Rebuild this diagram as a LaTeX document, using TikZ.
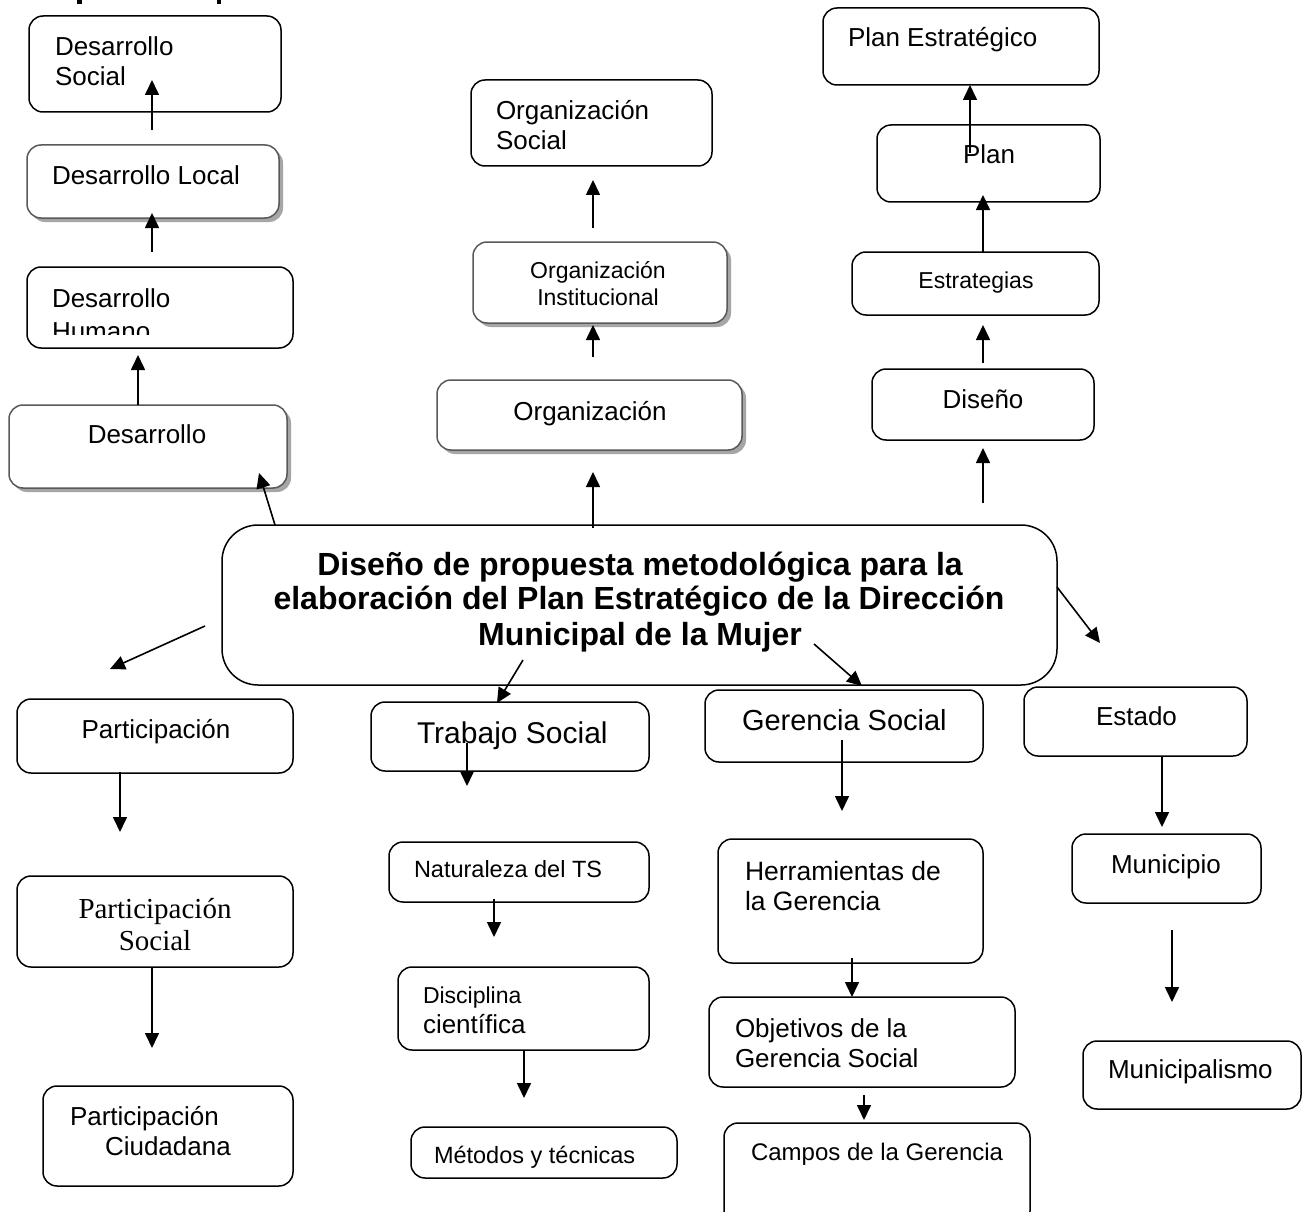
\documentclass[tikz,border=0pt]{standalone}
\usepackage{fontspec}
\setmainfont{Liberation Sans}
\newfontfamily\tmsfont{Liberation Serif}
\usetikzlibrary{arrows.meta,fit,shadows}
\begin{document}
\begin{tikzpicture}[x=1pt,y=-1pt,
 box/.style={draw=black, line width=1.5pt, rounded corners=14pt, inner sep=0pt, outer sep=0pt, fill=white},
 sbox/.style={box, draw=black!65, drop shadow={shadow xshift=4pt, shadow yshift=-4pt, fill=black!35, opacity=1}},
 arr/.style={line width=1.6pt, -{Triangle[length=15pt,width=14pt]}},
 t/.style={inner sep=0pt, outer sep=0pt, font=\fontsize{#1}{#1}\selectfont},
 t/.default=26,
]
\clip (0,0) rectangle (1310,1212);
\fill[white] (0,0) rectangle (1310,1212);
% cut-off title fragments
\fill (77,0) rectangle (82,4);
\fill (217,0) rectangle (221,4);

% ---------- left top column ----------
\node[box, fit={(29,16) (281,112)}] (dsoc) {};
\node[t, anchor=base west] (dsocA) at (55,56) {Desarrollo};
\node[t, anchor=base west] (dsocB) at (55,86) {Social};

\node[sbox, fit={(27,145) (279,218)}] (dloc) {};
\node[t, anchor=base west] (dlocA) at (52,185) {Desarrollo Local};

\node[box, fit={(27,267) (293,348)}] (dhum) {};
\node[t, anchor=base west] (dhumA) at (52,307) {Desarrollo};
\begin{scope}
\clip (27,267) rectangle (293,334);
\node[t, anchor=base west] (dhumB) at (52,340) {Humano};
\end{scope}

\node[sbox, fit={(9,405) (287,488)}] (des) {};
\node[t, anchor=base] (desA) at (147,443) {Desarrollo};

% ---------- middle top column ----------
\node[box, fit={(471,80) (712,166)}] (osoc) {};
\node[t, anchor=base west] (osocA) at (496,120) {Organización};
\node[t, anchor=base west] (osocB) at (496,150) {Social};

\node[sbox, fit={(473,242) (727,323)}] (oins) {};
\node[t=23, anchor=base] (oinsA) at (598,278) {Organización};
\node[t=23, anchor=base] (oinsB) at (598,305) {Institucional};

\node[sbox, fit={(437,380) (742,450)}] (org) {};
\node[t, anchor=base] (orgA) at (590,420) {Organización};

% ---------- right top column ----------
\node[box, fit={(823,8) (1099,85)}] (pest) {};
\node[t, anchor=base west] (pestA) at (848,47) {Plan Estratégico};

\node[box, fit={(877,125) (1100,202)}] (plan) {};
\node[t, anchor=base west] (planA) at (963,164) {Plan};

\node[box, fit={(852,252) (1099,315)}] (estr) {};
\node[t=23, anchor=base] (estrA) at (976,288) {Estrategias};

\node[box, fit={(872,369) (1094,440)}] (dise) {};
\node[t, anchor=base] (diseA) at (983,408) {Diseño};

% ---------- main box ----------
\node[box, rounded corners=36pt, fit={(222,525) (1057,685)}] (main) {};
\node[t=32, font=\fontsize{32}{32}\selectfont\bfseries, anchor=base] (mainA) at (640,575) {Diseño de propuesta metodológica para la};
\node[t=32, font=\fontsize{32}{32}\selectfont\bfseries, anchor=base] (mainB) at (639,609) {elaboración del Plan Estratégico de la Dirección};
\node[t=32, font=\fontsize{32}{32}\selectfont\bfseries, anchor=base] (mainC) at (640,645) {Municipal de la Mujer};

% ---------- bottom columns ----------
\node[box, fit={(17,699) (293,773)}] (part) {};
\node[t, anchor=base] (partA) at (156,738) {Participación};

\node[box, fit={(17,876) (293,967)}] (psoc) {};
\node[t=29, font=\fontsize{29}{29}\selectfont\tmsfont, anchor=base] (psocA) at (155,918) {Participación};
\node[t=29, font=\fontsize{29}{29}\selectfont\tmsfont, anchor=base] (psocB) at (155,950) {Social};

\node[box, fit={(43,1086) (293,1186)}] (pciu) {};
\node[t, anchor=base west] (pciuA) at (70,1125) {Participación};
\node[t, anchor=base west] (pciuB) at (105,1155) {Ciudadana};

\node[box, fit={(371,702) (649,771)}] (tsoc) {};
\node[t=30, anchor=base west] (tsocA) at (417,743) {Trabajo Social};

\node[box, fit={(389,842) (649,902)}] (natu) {};
\node[t=23.5, anchor=base west] (natuA) at (414,877) {Naturaleza del TS};

\node[box, fit={(398,967) (649,1050)}] (disc) {};
\node[t=23, anchor=base west] (discA) at (423,1003) {Disciplina};
\node[t, anchor=base west] (discB) at (423,1033) {científica};

\node[box, fit={(411,1127) (677,1178)}] (meto) {};
\node[t=23.5, anchor=base west] (metoA) at (434,1163) {Métodos y técnicas};

\node[box, fit={(705,690) (983,762)}] (gsoc) {};
\node[t=29, anchor=base west] (gsocA) at (742,730) {Gerencia Social};

\node[box, fit={(718,839) (983,963)}] (herr) {};
\node[t=26.5, anchor=base west] (herrA) at (745,880) {Herramientas de};
\node[t=26.5, anchor=base west] (herrB) at (745,910) {la Gerencia};

\node[box, fit={(709,997) (1015,1087)}] (obje) {};
\node[t, anchor=base west] (objeA) at (735,1037) {Objetivos de la};
\node[t, anchor=base west] (objeB) at (735,1067) {Gerencia Social};

\node[box, fit={(724,1123) (1030,1225)}] (camp) {};
\node[t=24, anchor=base west] (campA) at (751,1160) {Campos de la Gerencia};

\node[box, fit={(1024,687) (1247,756)}] (esta) {};
\node[t, anchor=base west] (estaA) at (1096,725) {Estado};

\node[box, fit={(1072,834) (1261,903)}] (muni) {};
\node[t, anchor=base west] (muniA) at (1111,873) {Municipio};

\node[box, fit={(1083,1041) (1301,1109)}] (mpal) {};
\node[t, anchor=base west] (mpalA) at (1108,1078) {Municipalismo};

% ---------- connector end points ----------
\coordinate (a1s) at (152,130);  \coordinate (a1e) at (152,80);
\coordinate (a2s) at (152,252);  \coordinate (a2e) at (152,213);
\coordinate (a3s) at (138,405);  \coordinate (a3e) at (138,355);
\coordinate (a4s) at (275,525);  \coordinate (a4e) at (259,473);
\coordinate (a5s) at (593,528);  \coordinate (a5e) at (593,472);
\coordinate (a6s) at (593,357);  \coordinate (a6e) at (593,325);
\coordinate (a7s) at (593,228);  \coordinate (a7e) at (593,180);
\coordinate (a8s) at (983,503);  \coordinate (a8e) at (983,448);
\coordinate (a9s) at (983,363);  \coordinate (a9e) at (983,325);
\coordinate (a10s) at (983,252); \coordinate (a10e) at (983,195);
\coordinate (a11s) at (970,153); \coordinate (a11e) at (970,85);
\coordinate (a12s) at (1057,587); \coordinate (a12e) at (1100,643);
\coordinate (a13s) at (205,626); \coordinate (a13e) at (110,669);
\coordinate (a14s) at (523,660); \coordinate (a14e) at (497,703);
\coordinate (a15s) at (814,644); \coordinate (a15e) at (862,686);
\coordinate (a16s) at (120,772); \coordinate (a16e) at (120,832);
\coordinate (a17s) at (152,968); \coordinate (a17e) at (152,1048);
\coordinate (a18s) at (467,743); \coordinate (a18e) at (467,786);
\coordinate (a19s) at (494,899); \coordinate (a19e) at (494,937);
\coordinate (a20s) at (524,1050); \coordinate (a20e) at (524,1098);
\coordinate (a21s) at (842,740); \coordinate (a21e) at (842,811);
\coordinate (a22s) at (852,958); \coordinate (a22e) at (852,997);
\coordinate (a23s) at (864,1095); \coordinate (a23e) at (864,1120);
\coordinate (a24s) at (1162,756); \coordinate (a24e) at (1162,827);
\coordinate (a25s) at (1172,930); \coordinate (a25e) at (1172,1002);

\foreach \i in {1,...,25} { \draw[arr] (a\i s) -- (a\i e); }
\end{tikzpicture}
\end{document}
